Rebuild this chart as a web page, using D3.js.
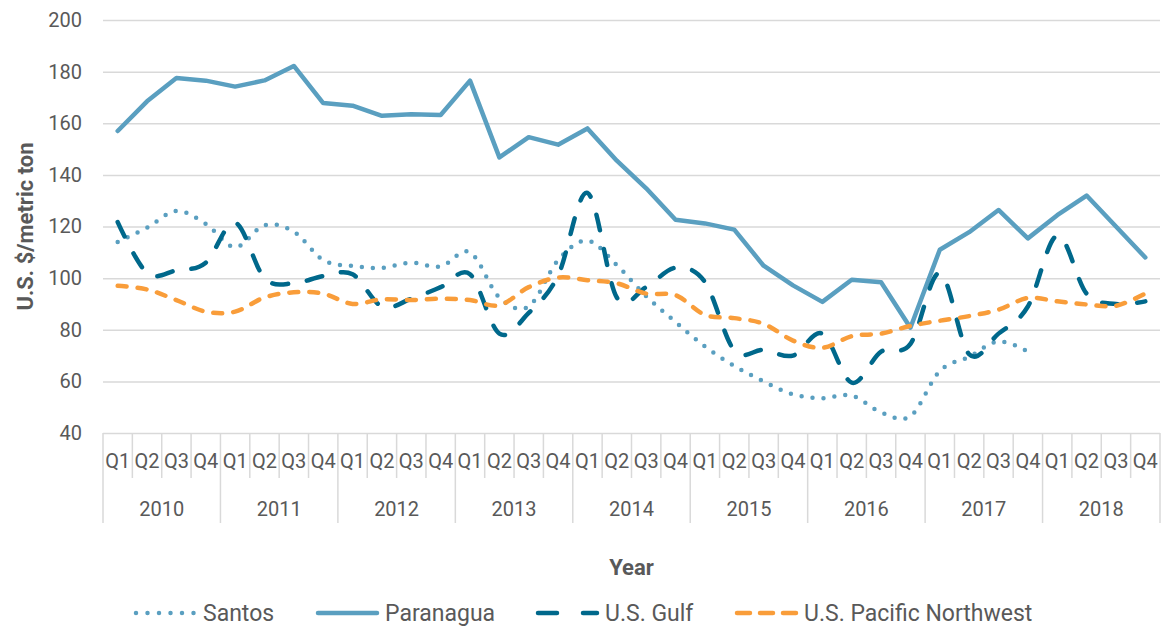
<!DOCTYPE html>
<html>
<head>
<meta charset="utf-8">
<script src="https://cdn.jsdelivr.net/npm/d3@7"></script>
<style>
  body { margin: 0; background: #fff; }
  text { font-family: Roboto, "Noto Sans", sans-serif; fill: #595959; }
</style>
</head>
<body>
<div class="chart"></div>
<script>
// data
const years = ["2010", "2011", "2012", "2013", "2014", "2015", "2016", "2017", "2018"];
const quarters = ["Q1", "Q2", "Q3", "Q4"];
const yTicks = [40, 60, 80, 100, 120, 140, 160, 180, 200];

const santos = [114, 119.5, 126, 121, 112, 120.5, 118, 107, 104.7, 104, 106, 104.5,
  110, 92.5, 89, 107, 114.5, 105, 93, 83, 73.5, 66, 60, 55,
  53.5, 54.5, 48, 46.5, 64, 69.5, 75.5, 71.5, null, null, null, null];
const paranagua = [157, 168.5, 177.5, 176.5, 174.2, 176.6, 182.2, 167.8, 166.8, 162.9, 163.5, 163.2,
  176.5, 146.8, 154.6, 151.7, 158, 145.5, 134.8, 122.6, 121.2, 118.8, 104.8, 97.2,
  90.8, 99.4, 98.4, 80.8, 111, 117.8, 126.4, 115.4, 124.4, 132, 120, 108];
const gulf = [121.7, 102, 103, 106, 121.5, 100, 98, 100.8, 101.5, 89, 92, 96.5,
  101.5, 78.5, 86.5, 101, 133, 92.5, 96.5, 104, 98.5, 72, 72.2, 70,
  78.5, 59.5, 71.5, 74.5, 102, 70.5, 78.5, 89, 116.5, 94, 90, 91];
const pnw = [97, 95.6, 91.5, 87, 87, 92.5, 94.5, 94, 90, 91.8, 91.5, 92,
  91.5, 89.5, 96.5, 100.2, 99.2, 98, 94, 93.4, 85.8, 84.5, 82.3, 75.8,
  73, 77.5, 78.5, 81.5, 83.5, 85.3, 87.8, 92.3, 91, 89.8, 89.3, 94];

const series = [
  { name: "Santos", values: santos, color: "#5a9fc0", dash: "0 11", legendDash: "0 11.5", smooth: true },
  { name: "Paranagua", values: paranagua, color: "#5a9fc0", dash: null, legendDash: null, smooth: false },
  { name: "U.S. Gulf", values: gulf, color: "#00688b", dash: "16 19", legendDash: "19 26", smooth: true },
  { name: "U.S. Pacific Northwest", values: pnw, color: "#f99d3a", dash: "9 11", legendDash: "13 10", smooth: true },
];

const width = 1166, height = 628;
const margin = { top: 20, right: 6, bottom: 195, left: 103 };
const innerWidth = width - margin.left - margin.right;
const innerHeight = height - margin.top - margin.bottom;

const categories = [];
years.forEach((yr) => quarters.forEach((q) => categories.push(yr + " " + q)));

const svg = d3.select(".chart").append("svg")
  .attr("width", width)
  .attr("height", height);

const g = svg.append("g")
  .attr("transform", `translate(${margin.left},${margin.top})`);

const xScale = d3.scaleBand().domain(categories).range([0, innerWidth]);
const yScale = d3.scaleLinear().domain([40, 200]).range([innerHeight, 0]);
const bw = xScale.bandwidth();

// gridlines + y labels
const yAxisG = g.append("g")
  .call(d3.axisLeft(yScale).tickValues(yTicks).tickSize(-innerWidth).tickPadding(21));
yAxisG.select(".domain").remove();
yAxisG.selectAll(".tick line").attr("stroke", "#d9d9d9").attr("stroke-width", 1.5);
yAxisG.selectAll(".tick text")
  .style("font-size", "20px").attr("fill", "#595959");

// two-level category axis (quarters, then years)
const xAxisG = g.append("g").attr("transform", `translate(0,${innerHeight})`);
d3.range(categories.length + 1).forEach((k) => {
  xAxisG.append("line")
    .attr("x1", k * bw).attr("x2", k * bw)
    .attr("y1", 0).attr("y2", k % 4 === 0 ? 90 : 45)
    .attr("stroke", "#d9d9d9").attr("stroke-width", 1.5);
});
xAxisG.selectAll(".q").data(categories).enter().append("text")
  .attr("class", "q")
  .attr("x", (d) => xScale(d) + bw / 2)
  .attr("y", 35)
  .attr("text-anchor", "middle")
  .style("font-size", "20px")
  .text((d) => d.split(" ")[1]);
xAxisG.selectAll(".yr").data(years).enter().append("text")
  .attr("class", "yr")
  .attr("x", (d) => xScale(d + " Q1") + bw * 2)
  .attr("y", 83)
  .attr("text-anchor", "middle")
  .style("font-size", "20px")
  .text((d) => d);

// axis titles
svg.append("text")
  .attr("transform", `translate(33,${margin.top + innerHeight / 2}) rotate(-90)`)
  .attr("text-anchor", "middle")
  .style("font-size", "22px").style("font-weight", "bold")
  .text("U.S. $/metric ton");
svg.append("text")
  .attr("x", margin.left + innerWidth / 2)
  .attr("y", 575)
  .attr("text-anchor", "middle")
  .style("font-size", "22px").style("font-weight", "bold")
  .text("Year");

// lines
series.forEach((s) => {
  const line = d3.line()
    .defined((d) => d != null)
    .x((d, i) => xScale(categories[i]) + bw / 2)
    .y((d) => yScale(d))
    .curve(s.smooth ? d3.curveCardinal.tension(0) : d3.curveLinear);
  g.append("path")
    .datum(s.values)
    .attr("d", line)
    .attr("fill", "none")
    .attr("stroke", s.color)
    .attr("stroke-width", 4.5)
    .attr("stroke-linecap", "round")
    .attr("stroke-linejoin", "round")
    .attr("stroke-dasharray", s.dash);
});

// legend
const legendPos = [136, 318, 538, 737];
const legend = svg.append("g").attr("transform", "translate(0,613)");
series.forEach((s, i) => {
  const lg = legend.append("g").attr("transform", `translate(${legendPos[i]},0)`);
  lg.append("line")
    .attr("x1", 0).attr("x2", 59)
    .attr("y1", 0).attr("y2", 0)
    .attr("stroke", s.color)
    .attr("stroke-width", 4.5)
    .attr("stroke-linecap", "round")
    .attr("stroke-dasharray", s.legendDash);
  lg.append("text")
    .attr("x", 67).attr("y", 8)
    .style("font-size", "23px")
    .text(s.name);
});
</script>
</body>
</html>
